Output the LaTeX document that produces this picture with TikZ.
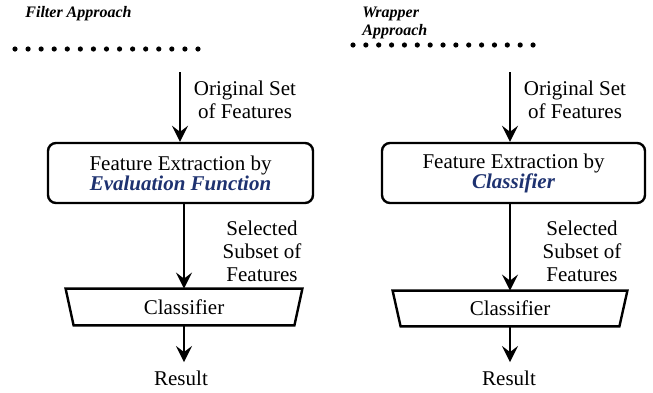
\documentclass[tikz,border=0pt]{standalone}
\usepackage{fontspec}
\setmainfont{Liberation Serif}
\usetikzlibrary{arrows.meta}
\definecolor{navyblue}{RGB}{30,50,112}
\newcommand{\hlt}[1]{\textcolor{navyblue}{\bfseries\itshape #1}}
\begin{document}
\begin{tikzpicture}[x=0.5pt,y=-0.5pt,
  lbl/.style={font=\fontsize{10.5}{11.5}\selectfont, align=center, inner sep=0pt},
  ttl/.style={font=\fontsize{8}{9}\selectfont\bfseries\itshape, align=left, inner sep=0pt},
  procbox/.style={draw, line width=1.2pt, rounded corners=4pt, minimum height=30pt,
    inner sep=0pt, align=center, font=\fontsize{10.5}{10}\selectfont},
  trapbox/.style={minimum height=18pt, inner sep=0pt, font=\fontsize{10.5}{11.5}\selectfont},
  trapline/.style={line width=1.2pt},
  resnode/.style={font=\fontsize{10.5}{11.5}\selectfont, inner xsep=0pt, inner ysep=4pt},
  arr/.style={line width=1.2pt, -{Stealth[length=8pt,width=8pt,inset=3pt]}},
  dot/.style={fill=black}
]
\useasboundingbox (0,0) rectangle (653,392);

% titles
\node[ttl, anchor=base west] (t1title) at (25,17) {Filter Approach};
\node[ttl, anchor=north west] (t2title) at (362,6.5) {Wrapper\\Approach};

% dotted rows
\foreach \i in {0,...,14} {
  \fill[dot] (15+\i*13.07,49) circle (1.3pt);
  \fill[dot] (353+\i*12.86,45) circle (1.3pt);
}

% ---------- left column ----------
\coordinate (s1) at (180,72);
\node[lbl] (o1) at (245,99.5) {Original Set\\of Features};
\node[procbox, minimum width=132.5pt] (b1) at (180.5,173)
  {Feature Extraction by\\\hlt{Evaluation Function}};
\node[lbl] (sel1) at (262,251) {Selected\\Subset of\\Features};
\node[trapbox, minimum width=118pt] (tr1) at (184,307) {Classifier};
\draw[trapline] (tr1.north west) -- (tr1.north east) -- ([xshift=-4pt]tr1.south east)
  -- ([xshift=4pt]tr1.south west) -- cycle;
\node[resnode, anchor=base] (r1) at (181,385) {Result};

\draw[arr] (s1) -- (s1 |- b1.north);
\draw[arr] (b1.south -| tr1.north) -- (tr1.north);
\draw[arr] (tr1.south) -- (tr1.south |- r1.north);

% ---------- right column ----------
\coordinate (s2) at (510,72);
\node[lbl] (o2) at (575,99.5) {Original Set\\of Features};
\node[procbox, minimum width=131.5pt] (b2) at (513.5,173)
  {Feature Extraction by\\\hlt{Classifier}};
\node[lbl] (sel2) at (582,251) {Selected\\Subset of\\Features};
\node[trapbox, minimum width=117pt, minimum height=17.5pt] (tr2) at (510,308.5) {Classifier};
\draw[trapline] (tr2.north west) -- (tr2.north east) -- ([xshift=-4pt]tr2.south east)
  -- ([xshift=4pt]tr2.south west) -- cycle;
\node[resnode, anchor=base] (r2) at (509,385) {Result};

\draw[arr] (s2) -- (s2 |- b2.north);
\draw[arr] (b2.south -| tr2.north) -- (tr2.north);
\draw[arr] (tr2.south) -- (tr2.south |- r2.north);
\end{tikzpicture}
\end{document}
